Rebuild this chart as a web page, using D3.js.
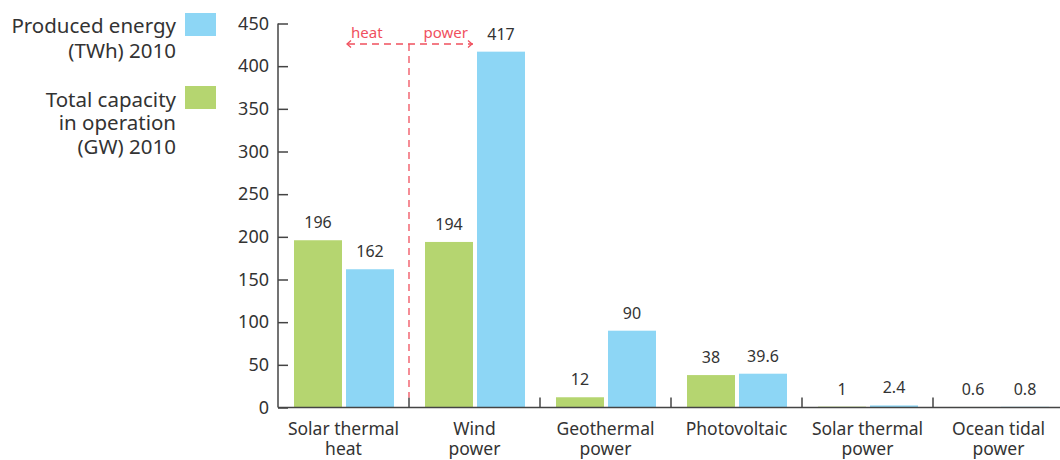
<!DOCTYPE html>
<html><head><meta charset="utf-8">
<script src="https://cdn.jsdelivr.net/npm/d3@7"></script>
<style>
html,body{margin:0;padding:0;background:#fff;}
svg{display:block;font-family:"Noto Sans","Open Sans",sans-serif;}
</style></head>
<body><svg id="c" width="1060" height="460"></svg>
<script>
const categories = [["Solar thermal","heat"],["Wind","power"],["Geothermal","power"],["Photovoltaic"],["Solar thermal","power"],["Ocean tidal","power"]];
const capacityGW = [196, 194, 12, 38, 1, 0.6];
const energyTWh = [162, 417, 90, 39.6, 2.4, 0.8];
const capacityLabels = ["196","194","12","38","1","0.6"];
const energyLabels = ["162","417","90","39.6","2.4","0.8"];
const yTicks = [0,50,100,150,200,250,300,350,400,450];
const seriesKeys = ["capacity","energy"];
const legendItems = [
  {key:"energy", lines:["Produced energy","(TWh) 2010"]},
  {key:"capacity", lines:["Total capacity","in operation","(GW) 2010"]}
];

const colors = {capacity:"#b5d570", energy:"#8dd6f5"};
const svg = d3.select("#c");
const catIdx = categories.map((c,i)=>i);
const x = d3.scaleBand().domain(catIdx).range([278, 1064]).padding(0);
const xs = d3.scaleBand().domain(seriesKeys).range([16, 116]).paddingInner(0.0769);
const y = d3.scaleLinear().domain([0,450]).range([407.5, 23.5]);
const textCol = "#333";
const axisCol = "#444";

// bars
const g = svg.append("g");
catIdx.forEach(i=>{
  const vals = {capacity:capacityGW[i], energy:energyTWh[i]};
  const labs = {capacity:capacityLabels[i], energy:energyLabels[i]};
  seriesKeys.forEach(k=>{
    const bx = x(i)+xs(k);
    g.append("rect").attr("x",bx).attr("width",xs.bandwidth())
      .attr("y",y(vals[k])).attr("height",y(0)-y(vals[k]))
      .attr("fill",colors[k]);
    g.append("text").attr("x",bx+xs.bandwidth()/2).attr("y",y(vals[k])-12)
      .attr("text-anchor","middle").attr("font-size",16).attr("fill",textCol)
      .text(labs[k]);
  });
});

// y axis
const yAxis = svg.append("g").attr("transform","translate(278,0)")
  .call(d3.axisLeft(y).tickValues(yTicks).tickSize(-10).tickPadding(10));
yAxis.select(".domain").attr("stroke",axisCol).attr("stroke-width",1.5).attr("d","M0,"+y(450)+"V"+y(0));
yAxis.selectAll(".tick line").attr("stroke",axisCol).attr("stroke-width",1.5);
yAxis.selectAll(".tick text").attr("font-size",18).attr("fill",textCol)
  .attr("font-family","'Noto Sans',sans-serif").attr("x",-9);

// x axis baseline
svg.append("line").attr("x1",278).attr("x2",1060).attr("y1",y(0)).attr("y2",y(0))
  .attr("stroke",axisCol).attr("stroke-width",1.5);
// separators
catIdx.slice(1).forEach(i=>{
  svg.append("line").attr("x1",x(i)).attr("x2",x(i)).attr("y1",y(0)).attr("y2",y(0)-10)
    .attr("stroke",axisCol).attr("stroke-width",1.5);
});
// category labels
catIdx.forEach(i=>{
  const t = svg.append("text").attr("text-anchor","middle").attr("font-size",17.5).attr("fill",textCol);
  categories[i].forEach((ln,j)=>{
    t.append("tspan").attr("x",x(i)+x.bandwidth()/2).attr("y",435+j*20).text(ln);
  });
});

// annotation heat/power
const red = "#f0505e";
const ax = x(1), ay = 44;
svg.append("line").attr("x1",ax).attr("x2",ax).attr("y1",ay).attr("y2",y(0)-10)
  .attr("stroke",red).attr("stroke-width",1.3).attr("stroke-dasharray","7,5");
svg.append("line").attr("x1",x(0)+xs("energy")+2).attr("x2",x(1)+xs("capacity")+xs.bandwidth())
  .attr("y1",ay).attr("y2",ay).attr("stroke",red).attr("stroke-width",1.3).attr("stroke-dasharray","7,5");
const lx = x(0)+xs("energy")+1, rx = x(1)+xs("capacity")+xs.bandwidth()-1;
svg.append("path").attr("d",`M${lx+4},${ay-3.5}L${lx},${ay}L${lx+4},${ay+3.5}`).attr("fill","none").attr("stroke",red).attr("stroke-width",1.3);
svg.append("path").attr("d",`M${rx-4},${ay-3.5}L${rx},${ay}L${rx-4},${ay+3.5}`).attr("fill","none").attr("stroke",red).attr("stroke-width",1.3);
svg.append("text").attr("x",lx+4).attr("y",38).attr("font-size",15).attr("fill",red).text("heat");
svg.append("text").attr("x",rx-4).attr("y",38).attr("text-anchor","end").attr("font-size",15).attr("fill",red).text("power");

// legend
const legTop = {energy:13, capacity:86};
const legBase = {energy:[33,58], capacity:[107,130,154]};
legendItems.forEach(it=>{
  svg.append("rect").attr("x",185).attr("y",legTop[it.key]).attr("width",31).attr("height",23).attr("fill",colors[it.key]);
  const t = svg.append("text").attr("text-anchor","end").attr("font-size",20.5).attr("fill",textCol);
  it.lines.forEach((ln,j)=>t.append("tspan").attr("x",176).attr("y",legBase[it.key][j]).text(ln));
});
</script></body></html>
